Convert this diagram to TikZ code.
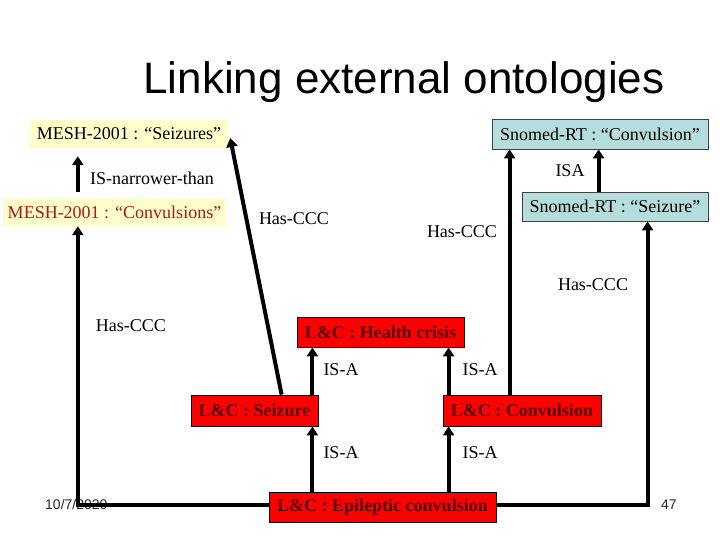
\documentclass[tikz,border=0pt]{standalone}
\usepackage{fontspec}
\setmainfont{Liberation Serif}
\newfontfamily\arialf{Liberation Sans}
\usetikzlibrary{arrows.meta}
\definecolor{meshyellow}{RGB}{255,255,204}
\definecolor{snblue}{RGB}{182,221,221}
\definecolor{lcred}{RGB}{255,0,0}
\definecolor{lctext}{RGB}{80,0,0}
\definecolor{meshred}{RGB}{180,20,20}
\definecolor{footgray}{RGB}{40,40,40}
\tikzset{
  txt/.style={font=\fontsize{18}{20}\selectfont},
  meshbox/.style={txt, fill=meshyellow, draw=none, inner sep=0pt, minimum height=28pt},
  snbox/.style={txt, fill=snblue, draw=black!75, line width=0.8pt, inner sep=0pt, minimum height=29pt},
  lcbox/.style={font=\bfseries\fontsize{18}{20}\selectfont, text=lctext, fill=lcred, draw=black, line width=0.8pt, inner sep=0pt, minimum height=30pt},
  lbl/.style={txt, inner sep=0pt},
  arr/.style={line width=4pt, -{Triangle[width=11pt,length=9pt]}},
  foot/.style={font=\arialf\fontsize{14}{16}\selectfont, text=footgray, inner sep=0pt, anchor=base west}
}
\begin{document}
\begin{tikzpicture}[x=1pt,y=-1pt]
\useasboundingbox (0,0) rectangle (720,540);
\fill[white] (0,0) rectangle (720,540);

\node[font=\arialf\fontsize{44}{50}\selectfont, anchor=base, inner sep=0pt] (title) at (404,94) {Linking external ontologies};

\node[foot] (date) at (45,509) {10/7/2020};
\node[foot] (page) at (661,509) {47};

% nodes
\node[meshbox, minimum width=198pt] (meshS) at (129,134) {MESH-2001 : “Seizures”};
\node[meshbox, minimum width=223pt, text=meshred] (meshC) at (114.5,212) {MESH-2001 : “Convulsions”};
\node[snbox, minimum width=216pt, minimum height=30pt] (snC) at (600,134) {Snomed-RT : “Convulsion”};
\node[snbox, minimum width=186pt] (snS) at (615,206.5) {Snomed-RT : “Seizure”};
\node[lcbox, minimum width=167pt] (hc) at (380.5,332) {L\&C : Health crisis};
\node[lcbox, minimum width=127pt, minimum height=31pt] (lcS) at (254.5,410.5) {L\&C : Seizure};
\node[lcbox, minimum width=158pt, minimum height=31pt] (lcC) at (522,410.5) {L\&C : Convulsion};
\node[lcbox, minimum width=227pt] (ep) at (382.5,507) {L\&C : Epileptic convulsion};

% connectors
\draw[arr, shorten <=6pt, shorten >=8pt] ([xshift=75pt]meshC.north west) -- ([xshift=75pt]meshC.north west |- meshS.south);
\draw[arr] ([xshift=77pt]snS.north west) -- ([xshift=77pt]snS.north west |- snC.south);
\draw[arr] ([xshift=-6pt]lcS.north east) -- ([xshift=-6pt]lcS.north east |- hc.south);
\draw[arr] ([xshift=6pt]lcC.north west) -- ([xshift=6pt]lcC.north west |- hc.south);
\draw[arr] ([xshift=-6pt]lcS.south east |- ep.north) -- ([xshift=-6pt]lcS.south east);
\draw[arr] ([xshift=6pt]lcC.south west |- ep.north) -- ([xshift=6pt]lcC.south west);
\draw[arr] ([yshift=2pt]ep.west) -| ([xshift=75pt]meshC.south west);
\draw[arr] ([yshift=2pt]ep.east) -| ([xshift=126pt]snS.south west);
\draw[arr] ([xshift=67pt]lcC.north west) -- ([xshift=67pt]lcC.north west |- snC.south);
\draw[arr] ([xshift=91pt]lcS.north west) -- ([xshift=2pt,yshift=-4pt]meshS.east);

% labels
\node[lbl, anchor=west] (lNar) at (90,178) {IS-narrower-than};
\node[lbl] (lIsa) at (570,171) {ISA};
\node[lbl] (lH1) at (294,219) {Has-CCC};
\node[lbl] (lH2) at (462,232) {Has-CCC};
\node[lbl] (lH3) at (593,285) {Has-CCC};
\node[lbl] (lH4) at (131,326) {Has-CCC};
\node[lbl] (lA1) at (341,370) {IS-A};
\node[lbl] (lA2) at (480,370) {IS-A};
\node[lbl] (lA3) at (341,453) {IS-A};
\node[lbl] (lA4) at (480,453) {IS-A};
\end{tikzpicture}
\end{document}
